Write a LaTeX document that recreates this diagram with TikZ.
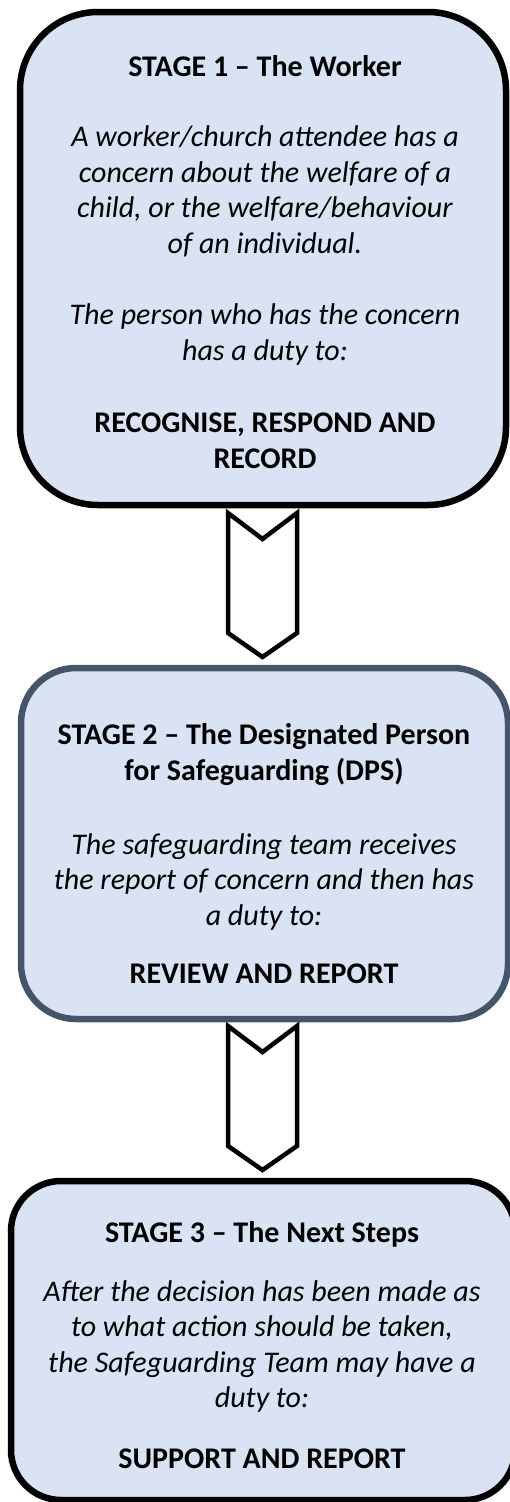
\documentclass[tikz,border=0pt]{standalone}
\usepackage{fontspec}
\setmainfont{Carlito}
\usepackage{xcolor}
\usepackage{tikz}
\definecolor{stagefill}{HTML}{DAE3F3}
\definecolor{slate}{HTML}{44546A}
\tikzstyle{stagebox} = [rectangle, draw=black, line width=6.5pt, fill=stagefill]
\tikzstyle{stagetext} = [align=center, inner sep=0pt, anchor=base, font=\fontsize{30}{35.5}\selectfont]
\tikzstyle{chevron} = [draw=black, line width=4.5pt, fill=white, line join=miter]

\begin{document}
\begin{tikzpicture}[x=1pt, y=-1pt]
	\useasboundingbox (0,0) rectangle (510,1502);
	\node (s1) [stagebox, rounded corners=78pt, minimum width=486pt, minimum height=493pt] at (263,258.5) {};
	\node (t1) [stagetext] at (265,468) {\textbf{STAGE 1 – The Worker}\\[34.5pt]
		\textit{A worker/church attendee has a}\\
		\textit{concern about the welfare of a}\\
		\textit{child, or the welfare/behaviour}\\
		\textit{of an individual.}\\[36pt]
		\textit{The person who has the concern}\\
		\textit{has a duty to:}\\[37pt]
		\textbf{RECOGNISE, RESPOND AND}\\
		\textbf{RECORD}};
	\coordinate (c1) at (262.5,513);
	\draw [chevron] (c1) ++(-34.5,0) -- ++(34.5,26) -- ++(34.5,-26) -- ++(0,120) -- ++(-34.5,24) -- ++(-34.5,-24) -- cycle;
	\node (s2) [stagebox, draw=slate, rounded corners=55pt, minimum width=487pt, minimum height=351pt] at (264.5,843.5) {};
	\node (t2) [stagetext] at (264,983) {\textbf{STAGE 2 – The Designated Person}\\
		\textbf{for Safeguarding (DPS)}\\[38.5pt]
		\textit{The safeguarding team receives}\\
		\textit{the report of concern and then has}\\
		\textit{a duty to:}\\[22.5pt]
		\textbf{REVIEW AND REPORT}};
	\coordinate (c2) at (262.5,1026);
	\draw [chevron] (c2) ++(-34.5,0) -- ++(34.5,26) -- ++(34.5,-26) -- ++(0,120) -- ++(-34.5,24) -- ++(-34.5,-24) -- cycle;
	\node (s3) [stagebox, rounded corners=50pt, minimum width=504pt, minimum height=319pt] at (263,1340.5) {};
	\node (t3) [stagetext] at (262,1468) {\textbf{STAGE 3 – The Next Steps}\\[23.5pt]
		\textit{After the decision has been made as}\\
		\textit{to what action should be taken,}\\
		\textit{the Safeguarding Team may have a}\\
		\textit{duty to:}\\[25pt]
		\textbf{SUPPORT AND REPORT}};
\end{tikzpicture}
\end{document}
